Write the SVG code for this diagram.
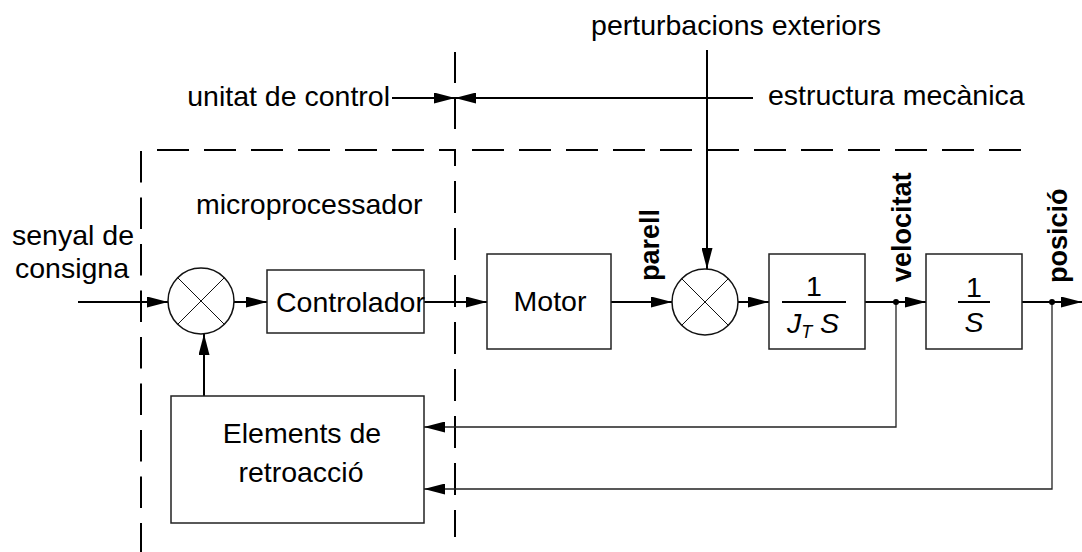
<svg xmlns="http://www.w3.org/2000/svg" width="1082" height="552" viewBox="0 0 1082 552">
<style>
text{font-family:"Liberation Sans",Arial,sans-serif;font-size:28.5px;fill:#000}
.b{font-weight:bold;font-size:27px}
.box{fill:#fff;stroke:#222;stroke-width:1.5}
.sum{fill:#fff;stroke:#111;stroke-width:1.5}
.x{stroke:#111;stroke-width:1}
.w{fill:none;stroke:#000;stroke-width:2}
.fb{fill:none;stroke:#222;stroke-width:1.3}
.d{fill:none;stroke:#000;stroke-width:2;stroke-dasharray:32 15}
.a{marker-end:url(#ah)}
</style>
<defs>
<marker id="ah" markerUnits="userSpaceOnUse" markerWidth="22" markerHeight="11" refX="21" refY="5.5" orient="auto">
<path d="M0,0 L21,5.5 L0,11 z" fill="#000"/>
</marker>
</defs>
<g id="boundaries">
<path class="d" d="M157,150 H455 V537"/>
<path class="d" d="M472,150 H1022"/>
<path class="d" style="stroke-dasharray:31.5 15" d="M141,151 V552"/>
<path class="d" style="stroke-dasharray:31 15" d="M455,52 V135"/>
</g>
<g id="labels">
<text x="736" y="35" text-anchor="middle">perturbacions exteriors</text>
<text x="390" y="106" text-anchor="end">unitat de control</text>
<text x="768" y="105">estructura mecànica</text>
<text x="196" y="214">microprocessador</text>
<text x="73" y="245" text-anchor="middle">senyal de</text>
<text x="72" y="278" text-anchor="middle">consigna</text>
<text class="b" transform="translate(659,281) rotate(-90)">parell</text>
<text class="b" transform="translate(911,282) rotate(-90)">velocitat</text>
<text class="b" transform="translate(1067,283) rotate(-90)">posició</text>
</g>
<g id="connectors">
<line class="w a" x1="392" y1="98" x2="455" y2="98"/>
<line class="w a" x1="753" y1="98" x2="455" y2="98"/>
<line class="w a" x1="707" y1="50" x2="707" y2="269"/>
<line class="w a" x1="78" y1="302" x2="168" y2="302"/>
<line class="w a" x1="234" y1="302" x2="267" y2="302"/>
<line class="w a" x1="424" y1="302" x2="487" y2="302"/>
<line class="w a" x1="611" y1="302" x2="672" y2="302"/>
<line class="w a" x1="738" y1="302" x2="769" y2="302"/>
<line class="w" x1="865" y1="302" x2="896" y2="302"/>
<line class="w a" x1="896" y1="302" x2="926" y2="302"/>
<line class="w" x1="1022" y1="302" x2="1052" y2="302"/>
<line class="w a" x1="1052" y1="302" x2="1082" y2="302"/>
<path class="fb a" d="M896,302 V427 H424"/>
<path class="fb a" d="M1052,302 V489 H424"/>
<line class="w a" x1="204" y1="396" x2="204" y2="334"/>
<circle cx="896" cy="302" r="3" fill="#000"/>
<circle cx="1052" cy="302" r="3" fill="#000"/>
</g>
<g id="sum1">
<circle class="sum" cx="201" cy="301" r="33"/>
<line class="x" x1="177.7" y1="277.7" x2="224.3" y2="324.3"/>
<line class="x" x1="224.3" y1="277.7" x2="177.7" y2="324.3"/>
</g>
<g id="controlador">
<rect class="box" x="267" y="270" width="157" height="63"/>
<text x="276" y="312">Controlador</text>
</g>
<g id="motor">
<rect class="box" x="487" y="254" width="124" height="95"/>
<text x="550" y="311" text-anchor="middle">Motor</text>
</g>
<g id="sum2">
<circle class="sum" cx="705" cy="302" r="33"/>
<line class="x" x1="681.7" y1="278.7" x2="728.3" y2="325.3"/>
<line class="x" x1="728.3" y1="278.7" x2="681.7" y2="325.3"/>
</g>
<g id="inertia">
<rect class="box" x="769" y="254" width="96" height="95"/>
<text x="814" y="296" text-anchor="middle">1</text>
<line x1="782" y1="302" x2="846" y2="302" stroke="#000" stroke-width="2"/>
<text x="813" y="333" text-anchor="middle" font-style="italic">J<tspan font-size="18" dy="5">T</tspan><tspan dy="-5"> S</tspan></text>
</g>
<g id="integrator">
<rect class="box" x="926" y="254" width="96" height="95"/>
<text x="974" y="297" text-anchor="middle">1</text>
<line x1="958" y1="302" x2="990" y2="302" stroke="#000" stroke-width="2"/>
<text x="974" y="332" text-anchor="middle" font-style="italic">S</text>
</g>
<g id="retroaccio">
<rect class="box" x="171" y="396" width="253" height="127"/>
<text x="302" y="443" text-anchor="middle">Elements de</text>
<text x="301" y="482" text-anchor="middle">retroacció</text>
</g>
</svg>
